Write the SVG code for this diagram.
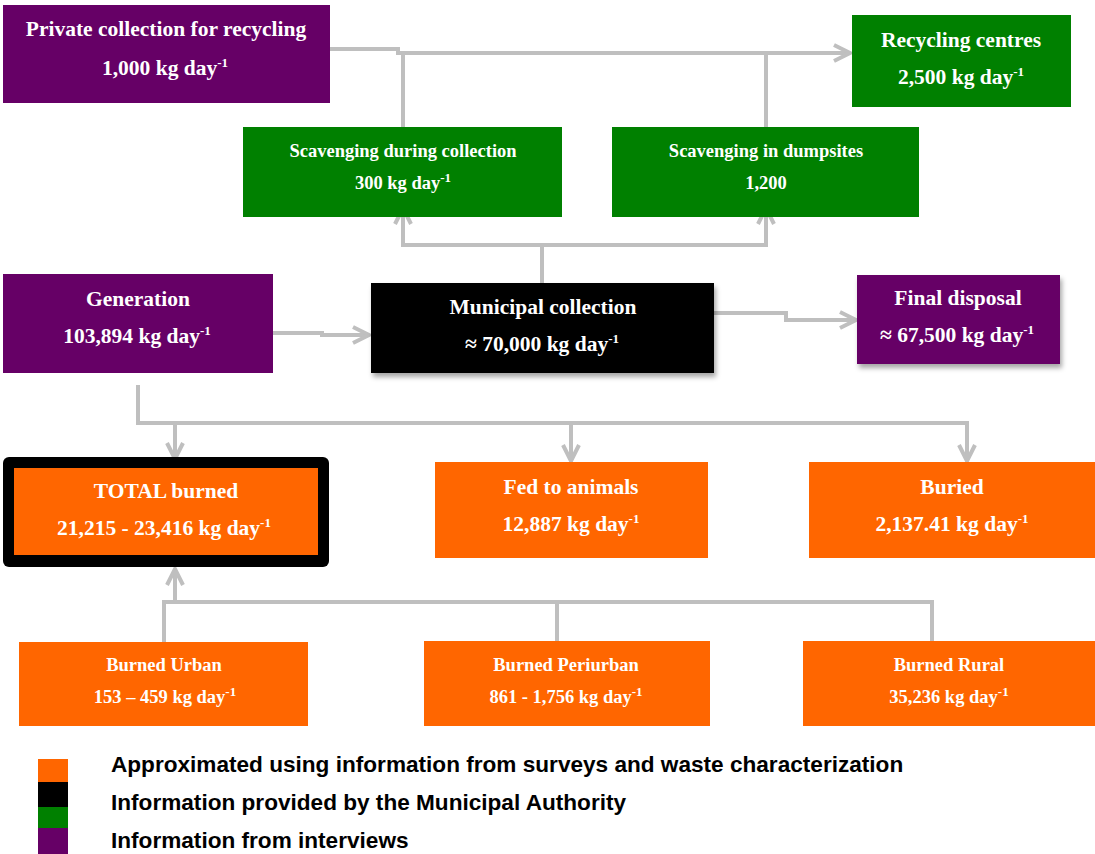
<svg xmlns="http://www.w3.org/2000/svg" width="1095" height="854" viewBox="0 0 1095 854">
<style>
.t{font-family:"Liberation Serif","Times New Roman",serif;font-weight:bold;fill:#fff;text-anchor:middle}
.b{font-size:21.5px}
.s{font-size:18.5px}
.sup{font-size:13px}
.purple{fill:#660066}
.green{fill:#008000}
.orange{fill:#ff6600}
.black{fill:#000}
.conn{fill:none;stroke:#bfbfbf;stroke-width:4;stroke-linejoin:miter}
.leg{font-family:"Liberation Sans",Arial,sans-serif;font-weight:bold;font-size:22.6px;fill:#000}
</style>
<defs>
<marker id="arr" markerUnits="userSpaceOnUse" viewBox="0 0 20 20" refX="18" refY="10" markerWidth="20" markerHeight="20" orient="auto">
<path d="M2,2 L18,10 L2,18" fill="none" stroke="#bfbfbf" stroke-width="4"/>
</marker>
<filter id="sh" x="-10%" y="-10%" width="130%" height="140%">
<feDropShadow dx="2" dy="4" stdDeviation="2.5" flood-color="#000" flood-opacity="0.35"/>
</filter>
</defs>

<g id="connectors">
<path class="conn" d="M330,49 H398 V53 H850" marker-end="url(#arr)"/>
<path class="conn" d="M403,127 V53"/>
<path class="conn" d="M766,127 V53"/>
<path class="conn" d="M542,283 V245 H403 V208" marker-end="url(#arr)"/>
<path class="conn" d="M542,245 H766 V208" marker-end="url(#arr)"/>
<path class="conn" d="M273,333 H322 V335 H369" marker-end="url(#arr)"/>
<path class="conn" d="M714,313 H786 V320 H856" marker-end="url(#arr)"/>
<path class="conn" d="M138,385 V423 H175 V459" marker-end="url(#arr)"/>
<path class="conn" d="M175,423 H571 V461" marker-end="url(#arr)"/>
<path class="conn" d="M571,423 H967 V461" marker-end="url(#arr)"/>
<path class="conn" d="M164,642 V602 H932 V642"/>
<path class="conn" d="M557,602 V642"/>
<path class="conn" d="M175,602 V569" marker-end="url(#arr)"/>
</g>

<g id="private">
<rect class="purple" x="3" y="5" width="327" height="98"/>
<text class="t b" x="166" y="36">Private collection for recycling</text>
<text class="t b" x="165" y="75">1,000 kg day<tspan class="sup" dy="-8">-1</tspan></text>
</g>

<g id="recycling">
<rect class="green" x="852" y="15" width="219" height="92"/>
<text class="t b" x="961" y="47">Recycling centres</text>
<text class="t b" x="961" y="84">2,500 kg day<tspan class="sup" dy="-8">-1</tspan></text>
</g>

<g id="scav-collection">
<rect class="green" x="243" y="127" width="319" height="90"/>
<text class="t s" x="403" y="157">Scavenging during collection</text>
<text class="t s" x="403" y="189">300 kg day<tspan class="sup" dy="-7">-1</tspan></text>
</g>

<g id="scav-dumpsites">
<rect class="green" x="612" y="127" width="307" height="90"/>
<text class="t s" x="766" y="157">Scavenging in dumpsites</text>
<text class="t s" x="766" y="189">1,200</text>
</g>

<g id="generation">
<rect class="purple" x="3" y="274" width="270" height="99"/>
<text class="t b" x="138" y="306">Generation</text>
<text class="t b" x="137" y="343">103,894 kg day<tspan class="sup" dy="-8">-1</tspan></text>
</g>

<g id="municipal">
<rect class="black" x="371" y="283" width="343" height="90" filter="url(#sh)"/>
<text class="t b" x="543" y="314">Municipal collection</text>
<text class="t b" x="542" y="351">≈ 70,000 kg day<tspan class="sup" dy="-8">-1</tspan></text>
</g>

<g id="final">
<rect class="purple" x="857" y="275" width="203" height="89" filter="url(#sh)"/>
<text class="t b" x="958" y="305">Final disposal</text>
<text class="t b" x="957" y="342">≈ 67,500 kg day<tspan class="sup" dy="-8">-1</tspan></text>
</g>

<g id="total-burned">
<rect class="black" x="3" y="457" width="326" height="110" rx="6"/>
<rect class="orange" x="14" y="468" width="304" height="87"/>
<text class="t b" x="166" y="498">TOTAL burned</text>
<text class="t b" x="164" y="535">21,215 - 23,416 kg day<tspan class="sup" dy="-8">-1</tspan></text>
</g>

<g id="fed">
<rect class="orange" x="435" y="462" width="273" height="96"/>
<text class="t b" x="571" y="494">Fed to animals</text>
<text class="t b" x="571" y="531">12,887 kg day<tspan class="sup" dy="-8">-1</tspan></text>
</g>

<g id="buried">
<rect class="orange" x="809" y="462" width="286" height="96"/>
<text class="t b" x="952" y="494">Buried</text>
<text class="t b" x="952" y="531">2,137.41 kg day<tspan class="sup" dy="-8">-1</tspan></text>
</g>

<g id="burned-urban">
<rect class="orange" x="19" y="642" width="289" height="84"/>
<text class="t s" x="164" y="671">Burned Urban</text>
<text class="t s" x="165" y="703">153 – 459 kg day<tspan class="sup" dy="-7">-1</tspan></text>
</g>

<g id="burned-periurban">
<rect class="orange" x="424" y="641" width="286" height="85"/>
<text class="t s" x="566" y="671">Burned Periurban</text>
<text class="t s" x="566" y="703">861 - 1,756 kg day<tspan class="sup" dy="-7">-1</tspan></text>
</g>

<g id="burned-rural">
<rect class="orange" x="803" y="641" width="292" height="85"/>
<text class="t s" x="949" y="671">Burned Rural</text>
<text class="t s" x="949" y="703">35,236 kg day<tspan class="sup" dy="-7">-1</tspan></text>
</g>

<g id="legend">
<rect class="orange" x="38" y="759" width="30" height="23"/>
<rect class="black" x="38" y="782" width="30" height="25"/>
<rect class="green" x="38" y="807" width="30" height="21"/>
<rect class="purple" x="38" y="828" width="30" height="26"/>
<text class="leg" x="111" y="772">Approximated using information from surveys and waste characterization</text>
<text class="leg" x="111" y="810">Information provided by the Municipal Authority</text>
<text class="leg" x="111" y="848">Information from interviews</text>
</g>
</svg>
